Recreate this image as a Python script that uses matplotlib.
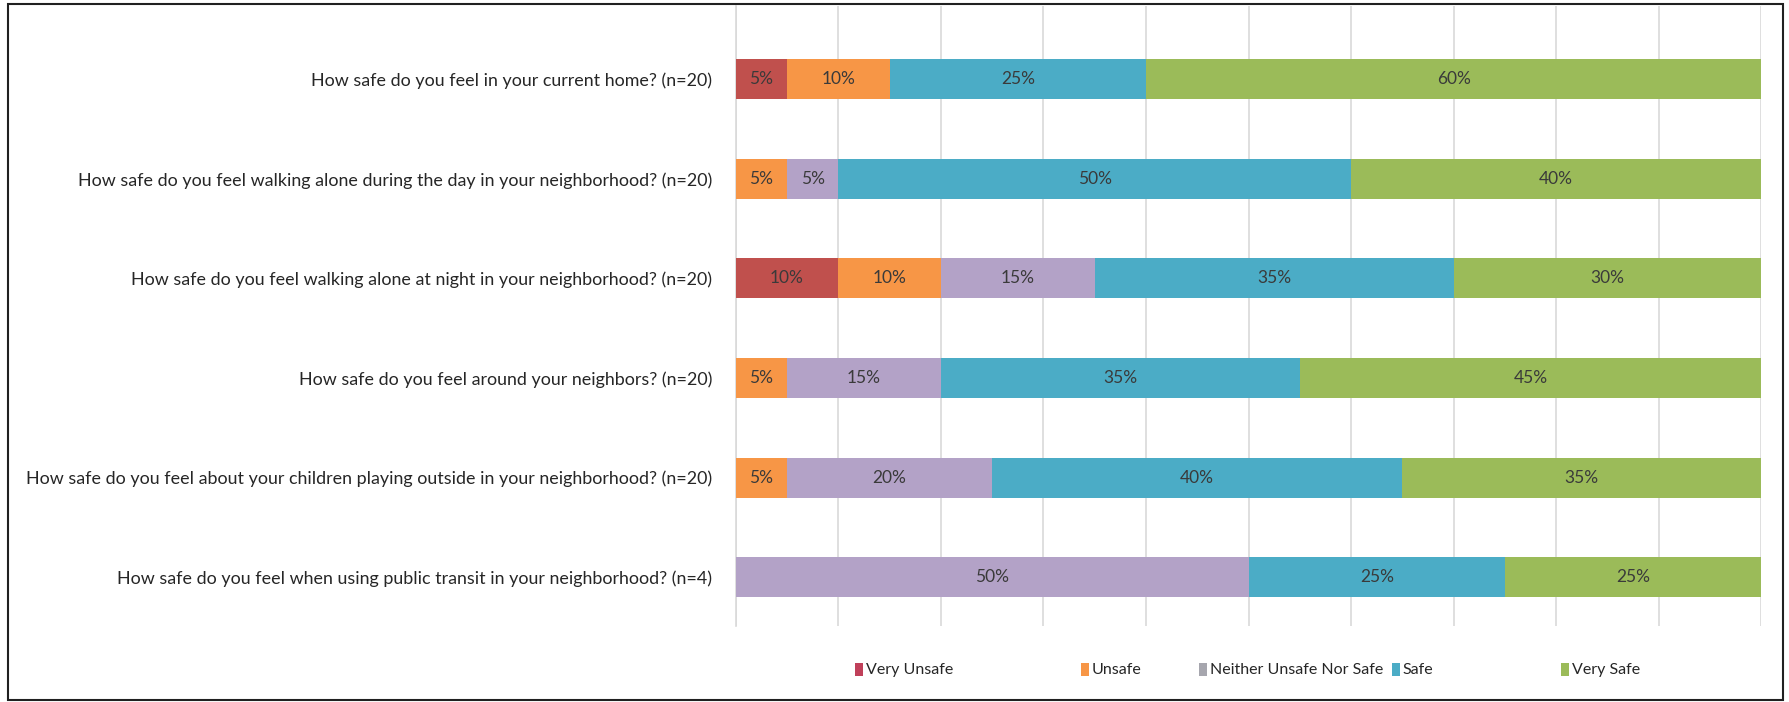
import numpy as np
import matplotlib.pyplot as plt
from matplotlib.patches import Rectangle

plt.rcParams['font.family'] = ['Lato', 'DejaVu Sans']

# Survey questions, top to bottom
questions = [
    "How safe do you feel in your current home? (n=20)",
    "How safe do you feel walking alone during the day in your neighborhood? (n=20)",
    "How safe do you feel walking alone at night in your neighborhood? (n=20)",
    "How safe do you feel around your neighbors? (n=20)",
    "How safe do you feel about your children playing outside in your neighborhood? (n=20)",
    "How safe do you feel when using public transit in your neighborhood? (n=4)",
]

categories = ["Very Unsafe", "Unsafe", "Neither Unsafe Nor Safe", "Safe", "Very Safe"]

# percentage of responses per category, one value per question
very_unsafe = [5, 0, 10, 0, 0, 0]
unsafe = [10, 5, 10, 5, 5, 0]
neither = [0, 5, 15, 15, 20, 50]
safe = [25, 50, 35, 35, 40, 25]
very_safe = [60, 40, 30, 45, 35, 25]

colors = ["#C0504D", "#F79646", "#B3A2C7", "#4BACC6", "#9BBB59"]
legend_colors = ["#C0405A", "#F79646", "#A6A6AE", "#4BACC6", "#9BBB59"]

series = [very_unsafe, unsafe, neither, safe, very_safe]

fig = plt.figure(figsize=(17.9, 7.02), dpi=100)
ax = fig.add_axes([0.411, 0.108, 0.573, 0.883])

y = np.arange(len(questions))
left = np.zeros(len(questions))
for vals, col in zip(series, colors):
    vals = np.array(vals, dtype=float)
    ax.barh(y, vals, left=left, height=0.4, color=col, zorder=3)
    for yi, (l, v) in enumerate(zip(left, vals)):
        if v > 0:
            ax.text(l + v / 2, yi, f"{int(v)}%", ha='center', va='center',
                    fontsize=12.5, color='#3A3A3A', zorder=4)
    left += vals

ax.set_xlim(0, 100)
ax.set_ylim(5.49, -0.73)
ax.set_xticks(np.arange(0, 101, 10))
ax.set_xticklabels([])
ax.tick_params(axis='x', length=0)
ax.grid(axis='x', color='#D9D9D9', linewidth=1.2, zorder=0)
ax.set_yticks(y)
ax.set_yticklabels(questions, fontsize=12.9, color='#262626')
ax.tick_params(axis='y', length=0, pad=17)
for s in ['top', 'right', 'bottom']:
    ax.spines[s].set_visible(False)
ax.spines['left'].set_color('#D9D9D9')
ax.spines['left'].set_linewidth(1.2)

# legend row under the plot
legend_x = [0.4777, 0.6039, 0.6698, 0.7777, 0.8721]
for lx, lab, col in zip(legend_x, categories, legend_colors):
    fig.patches.append(Rectangle((lx, 0.037), 0.0045, 0.018, transform=fig.transFigure,
                                 facecolor=col, edgecolor='none'))
    fig.text(lx + 0.006, 0.046, lab, fontsize=11.5, color='#262626',
             ha='left', va='center')

# outer frame
fig.patches.append(Rectangle((0.0045, 0.003), 0.9917, 0.991, transform=fig.transFigure,
                             fill=False, edgecolor='#202020', linewidth=1.5))

fig.savefig('out.png', dpi=100)
